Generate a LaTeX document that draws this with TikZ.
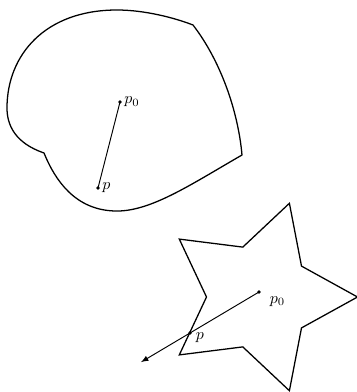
\documentclass[tikz,border=0pt]{standalone}
\usepackage{amsmath, amssymb}
\usepackage{tikz}
\usetikzlibrary{positioning, calc}

\begin{document}
\begin{tikzpicture}[x=0.022cm, y=-0.022cm, line width=0.8pt]
            \useasboundingbox (0,0) rectangle (357,392);

            % smooth region
            \draw (44,153) .. controls (15,143) and (7,125) .. (7,108)
                .. controls (7,55) and (45,10) .. (117,10)
                .. controls (145,10) and (175,18) .. (193,25)
                .. controls (220,60) and (238,110) .. (242,155)
                .. controls (190,185) and (150,212) .. (115,211)
                .. controls (75,210) and (55,180) .. (44,153) -- cycle;

            \coordinate (P0) at (120,102);
            \fill[black] (P0) circle (1.1pt);
            \node[right=-1pt] at (P0) {$p_0$};

            \coordinate (P) at (98,188);
            \fill[black] (P) circle (1.1pt);
            \node[right=-1pt] at (P) {$p$};
            \draw[line width=0.6pt] (P0) -- (P);

            % star
            \draw (357.5,297) -- (301.5,266.1) -- (289.4,203.3) -- (242.8,247.1)
                -- (179.3,239.1) -- (206.5,297) -- (179.3,354.9) -- (242.8,346.9)
                -- (289.4,390.7) -- (301.5,327.9) -- cycle;

            \coordinate (Q0) at (259,292);
            \fill[black] (Q0) circle (1.1pt);
            \node[below right=-1pt and 3pt] at (Q0) {$p_0$};

            \coordinate (Q) at (190,333);
            \fill[black] (Q) circle (1.1pt);
            \node[below right=-4pt and 0pt] at (Q) {$p$};

            \coordinate (Qend) at ($(Q0)!1.71!(Q)$);
            \draw[-latex, line width=0.6pt] (Q0) -- (Qend);
        \end{tikzpicture}
\end{document}
